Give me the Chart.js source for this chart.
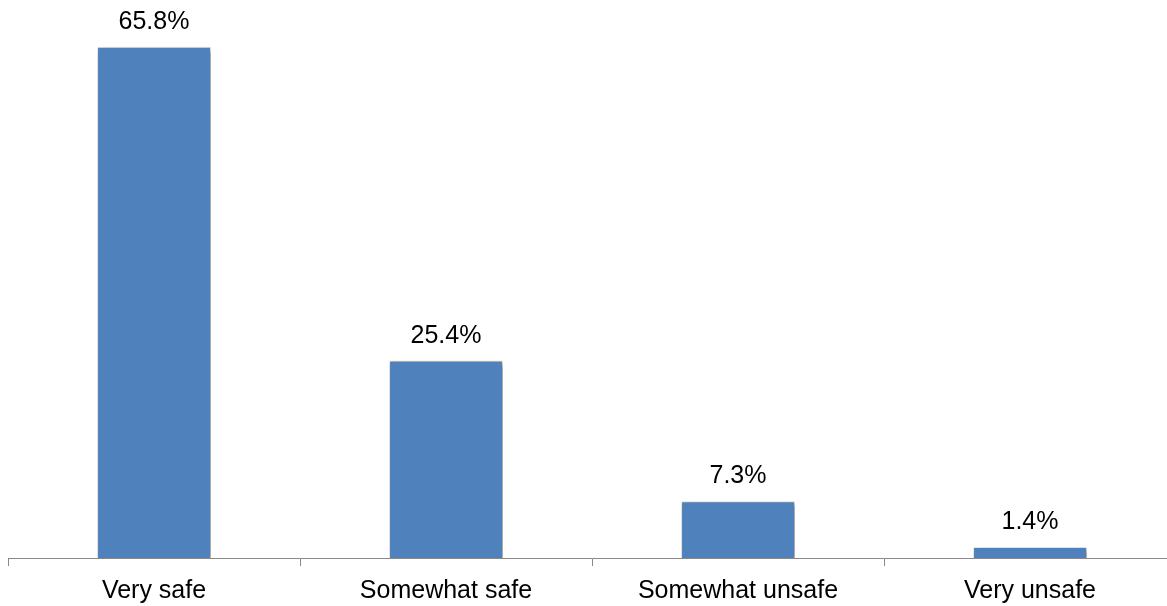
<!DOCTYPE html>
<html>
<head>
<meta charset="utf-8">
<script src="https://cdn.jsdelivr.net/npm/chart.js@4/dist/chart.umd.min.js"></script>
<style>
  html, body { margin: 0; padding: 0; background: #fff; overflow: hidden; }
  #wrap { width: 1180px; height: 606px; }
</style>
</head>
<body>
<div id="wrap"><canvas id="grafico"></canvas></div>
<script>
var categorias = ["Very safe", "Somewhat safe", "Somewhat unsafe", "Very unsafe"];
var valores = [65.8, 25.4, 7.3, 1.4];

// sombra das barras
var sombra = {
  id: "sombra",
  beforeDatasetsDraw: function (chart) {
    var ctx = chart.ctx;
    ctx.save();
    ctx.shadowColor = "rgba(0, 0, 0, 0.45)";
    ctx.shadowBlur = 5;
    ctx.shadowOffsetX = 2;
    ctx.shadowOffsetY = 2;
  },
  afterDatasetsDraw: function (chart) {
    chart.ctx.restore();
  }
};

// rotulos em cima das barras
var rotulos = {
  id: "rotulos",
  afterDraw: function (chart) {
    var ctx = chart.ctx;
    var meta = chart.getDatasetMeta(0);
    ctx.save();
    ctx.font = "25px 'Liberation Sans', Arial, sans-serif";
    ctx.fillStyle = "#000";
    ctx.textAlign = "center";
    ctx.textBaseline = "alphabetic";
    meta.data.forEach(function (bar, i) {
      ctx.fillText(valores[i].toFixed(1) + "%", bar.x, bar.y - 18);
    });
    ctx.restore();
  }
};

var ctx = document.getElementById("grafico").getContext("2d");
var myChart = new Chart(ctx, {
  type: "bar",
  data: {
    labels: categorias,
    datasets: [
      {
        data: valores,
        backgroundColor: "#4F81BD",
        borderColor: "#f2f2f2",
        borderWidth: 1,
        barPercentage: 0.78,
        categoryPercentage: 0.5,
      },
    ],
  },
  options: {
    responsive: true,
    maintainAspectRatio: false,
    animation: false,
    layout: { padding: { left: 8, right: 4, top: 14, bottom: 0 } },
    plugins: {
      legend: { display: false },
      tooltip: { enabled: false },
    },
    scales: {
      y: {
        display: false,
        min: 0,
        max: 70,
      },
      x: {
        grid: {
          drawOnChartArea: false,
          tickLength: 8,
          color: "#888",
        },
        border: { color: "#888", width: 1 },
        ticks: {
          color: "#000",
          padding: 10,
          font: { family: "'Liberation Sans', Arial, sans-serif", size: 25 },
        },
        afterFit: function (scale) { scale.height = 48; },
      },
    },
  },
  plugins: [sombra, rotulos],
});
</script>
</body>
</html>
